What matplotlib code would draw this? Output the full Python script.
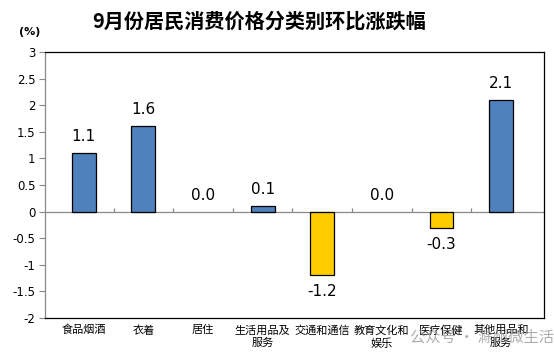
import matplotlib.pyplot as plt
import numpy as np

plt.rcParams['font.family'] = ['Noto Sans CJK SC', 'DejaVu Sans']

# Data
categories = ['食品烟酒', '衣着', '居住', '生活用品及\n服务', '交通和通信',
              '教育文化和\n娱乐', '医疗保健', '其他用品和\n服务']
values = [1.1, 1.6, 0.0, 0.1, -1.2, 0.0, -0.3, 2.1]
value_labels = ['1.1', '1.6', '0.0', '0.1', '-1.2', '0.0', '-0.3', '2.1']
yticks = [3, 2.5, 2, 1.5, 1, 0.5, 0, -0.5, -1, -1.5, -2]
ytick_labels = ['3', '2.5', '2', '1.5', '1', '0.5', '0', '-0.5', '-1', '-1.5', '-2']

blue = '#4F81BD'
yellow = '#FFCC00'

fig = plt.figure(figsize=(5.54, 3.61), dpi=100)
ax = fig.add_axes([0.0812, 0.119, 0.9008, 0.737])

x = np.arange(len(categories))
colors = [blue if v >= 0 else yellow for v in values]
edges = ['black' if v != 0 else 'none' for v in values]
ax.bar(x, values, width=0.4, color=colors, edgecolor=edges, linewidth=0.9, zorder=3)

# value labels
for xi, v, lab in zip(x, values, value_labels):
    if v >= 0:
        ax.annotate(lab, (xi, v), xytext=(0, 6.5), textcoords='offset points',
                    ha='center', va='bottom', fontsize=11, family='DejaVu Sans')
    else:
        ax.annotate(lab, (xi, v), xytext=(0, -6.5), textcoords='offset points',
                    ha='center', va='top', fontsize=11, family='DejaVu Sans')

# zero line with small ticks at category boundaries
ax.axhline(0, color='#888888', linewidth=0.9, zorder=2)
bounds = np.arange(len(categories) - 1) + 0.5
ax.vlines(bounds, 0, 0.07, color='#888888', linewidth=0.9, zorder=2)

ax.set_xlim(-0.65, 7.72)
ax.set_ylim(-2, 3)
ax.set_yticks(yticks)
ax.set_yticklabels(ytick_labels, fontsize=8.5, family='DejaVu Sans')
ax.set_xticks(x)
ax.set_xticklabels(categories, fontsize=8, linespacing=1.3)
ax.tick_params(axis='x', length=0, pad=5)
ax.tick_params(axis='y', length=4, width=0.8, color='#888888', pad=3)

for side in ['top', 'right', 'bottom']:
    ax.spines[side].set_color('black')
    ax.spines[side].set_linewidth(0.9)
ax.spines['left'].set_color('#888888')
ax.spines['left'].set_linewidth(0.9)

fig.text(0.468, 0.943, '9月份居民消费价格分类别环比涨跌幅', ha='center', va='center',
         fontsize=14.5, fontweight='bold')
fig.text(0.053, 0.912, '(%)', ha='center', va='center', fontsize=8, fontweight='bold',
         family='DejaVu Sans')

# watermark overlay
fig.text(0.87, 0.065, '公众号 · 滁州微生活', ha='center', va='center', fontsize=11,
         color='#999999', alpha=0.8)

fig.savefig('out.png', dpi=100)
